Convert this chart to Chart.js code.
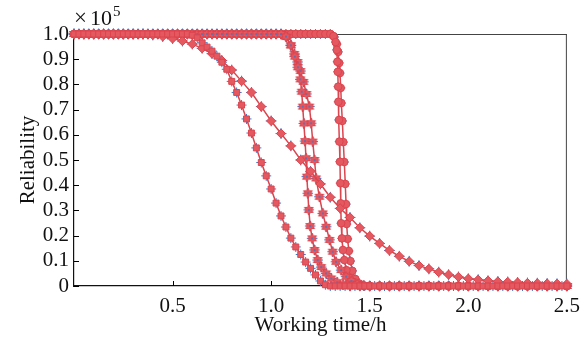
<!DOCTYPE html>
<html><head><meta charset="utf-8">
<script src="https://cdn.jsdelivr.net/npm/chart.js@4/dist/chart.umd.min.js"></script>
<style>html,body{margin:0;padding:0;background:#fff}canvas{display:block}</style>
</head><body>
<canvas id="c" width="588" height="339"></canvas>
<script>
// ---------- data ----------
const xTitle = 'Working time/h';
const yTitle = 'Reliability';
const yExponent = '5';

// square-marker curve
const sqT = [0,0.025,0.05,0.075,0.1,0.125,0.15,0.175,0.2,0.225,0.25,0.275,0.3,0.325,0.35,0.375,0.4,0.425,0.45,0.475,0.5,0.525,0.55,0.575,0.6,0.625,0.65,0.675,0.7,0.725,0.75,0.775,0.8,0.825,0.85,0.875,0.9,0.925,0.95,0.975,1,1.025,1.05,1.075,1.1,1.125,1.15,1.175,1.2,1.225,1.25,1.275,1.3,1.325,1.35,1.375,1.4,1.425,1.45,1.475,1.5,1.525,1.55,1.575,1.6,1.625,1.65,1.675,1.7,1.725,1.75,1.775,1.8,1.825,1.85,1.875,1.9,1.925,1.95,1.975,2,2.025,2.05,2.075,2.1,2.125,2.15,2.175,2.2,2.225,2.25,2.275,2.3,2.325,2.35,2.375,2.4,2.425,2.45,2.475,2.5];
const sqR = [1,1,1,1,1,1,1,1,1,1,1,1,1,1,1,1,1,1,1,1,1,1,1,1,
  0.995,0.985,0.965,0.948,0.932,0.912,0.888,0.86,0.812,0.768,0.718,0.663,0.607,0.548,0.49,0.437,0.385,0.329,0.278,0.234,0.19,0.155,0.125,0.095,0.07,0.044,0.02,0.005,
  0,0,0,0,0,0,0,0,0,0,0,0,0,0,0,0,0,0,0,0,0,0,0,0,0,0,0,0,0,0,0,0,0,0,0,0,0,0,0,0,0,0,0,0,0,0,0,0,0];

// diamond-marker curve
const dmT = [0,0.05,0.1,0.15,0.2,0.25,0.3,0.35,0.4,0.45,0.5,0.55,0.6,0.65,0.7,0.75,0.8,0.85,0.9,0.95,1,1.05,1.1,1.15,1.2,1.25,1.3,1.35,1.4,1.45,1.5,1.55,1.6,1.65,1.7,1.75,1.8,1.85,1.9,1.95,2,2.05,2.1,2.15,2.2,2.25,2.3,2.35,2.4,2.45,2.5];
const dmR = [1,1,1,1,1,1,1,1,
  0.996,0.99,0.982,0.972,0.96,0.943,0.922,0.895,0.857,0.813,0.768,0.712,0.655,0.605,0.556,0.5,0.455,0.405,0.352,0.308,0.272,0.231,0.198,0.169,0.141,0.118,0.098,0.081,0.068,0.055,0.045,0.036,0.029,0.025,0.021,0.018,0.016,0.014,0.012,0.011,0.01,0.009,0.008];

// star-marker curve (left)
const stAT = [0,0.025,0.05,0.075,0.1,0.125,0.15,0.175,0.2,0.225,0.25,0.275,0.3,0.325,0.35,0.375,0.4,0.425,0.45,0.475,0.5,0.525,0.55,0.575,0.6,0.625,0.65,0.675,0.7,0.725,0.75,0.775,0.8,0.825,0.85,0.875,0.9,0.925,0.95,0.975,1,1.025,1.05,
  1.075,1.1,1.12,1.135,1.148,1.155,1.16,1.166,1.172,1.177,1.181,1.186,1.191,1.198,1.208,1.22,1.236,1.254,1.279,1.305,1.335,1.365,1.4,
  1.45,1.5,1.55,1.6,1.65,1.7,1.75,1.8,1.85,1.9,1.95,2,2.05,2.1,2.15,2.2,2.25,2.3,2.35,2.4,2.45,2.5];
const stAR = [1,1,1,1,1,1,1,1,1,1,1,1,1,1,1,1,1,1,1,1,1,1,1,1,1,1,1,1,1,1,1,1,1,1,1,1,1,1,1,1,1,1,1,
  0.99,0.955,0.91,0.868,0.82,0.771,0.712,0.645,0.575,0.507,0.434,0.368,0.302,0.238,0.189,0.143,0.103,0.075,0.05,0.03,0.015,0.006,0,
  0,0,0,0,0,0,0,0,0,0,0,0,0,0,0,0,0,0,0,0,0,0];

// star-marker curve (right)
const stBT = [0,0.025,0.05,0.075,0.1,0.125,0.15,0.175,0.2,0.225,0.25,0.275,0.3,0.325,0.35,0.375,0.4,0.425,0.45,0.475,0.5,0.525,0.55,0.575,0.6,0.625,0.65,0.675,0.7,0.725,0.75,0.775,0.8,0.825,0.85,0.875,0.9,0.925,0.95,0.975,1,1.025,1.05,
  1.078,1.1,1.118,1.134,1.149,1.164,1.179,1.194,1.203,1.211,1.22,1.228,1.245,1.262,1.279,1.296,1.312,1.329,1.355,1.38,1.407,1.437,1.47,
  1.5,1.55,1.6,1.65,1.7,1.75,1.8,1.85,1.9,1.95,2,2.05,2.1,2.15,2.2,2.25,2.3,2.35,2.4,2.45,2.5];
const stBR = [1,1,1,1,1,1,1,1,1,1,1,1,1,1,1,1,1,1,1,1,1,1,1,1,1,1,1,1,1,1,1,1,1,1,1,1,1,1,1,1,1,1,1,
  0.988,0.955,0.921,0.889,0.853,0.81,0.762,0.712,0.646,0.573,0.5,0.427,0.354,0.288,0.235,0.183,0.136,0.096,0.063,0.037,0.02,0.008,0.002,
  0,0,0,0,0,0,0,0,0,0,0,0,0,0,0,0,0,0,0,0,0];

// circle-marker curve (left)
const ciAT = [0,0.025,0.05,0.075,0.1,0.125,0.15,0.175,0.2,0.225,0.25,0.275,0.3,0.325,0.35,0.375,0.4,0.425,0.45,0.475,0.5,0.525,0.55,0.575,0.6,0.625,0.65,0.675,0.7,0.725,0.75,0.775,0.8,0.825,0.85,0.875,0.9,0.925,0.95,0.975,1,1.025,1.05,1.075,1.1,1.125,1.15,1.175,1.2,1.225,1.25,1.275,1.3,
  1.316,1.327,1.333,1.336,1.338,1.34,1.341,1.344,1.346,1.349,1.351,1.353,1.355,1.359,1.364,1.371,1.382,1.397,1.417,1.44,1.47,
  1.5,1.55,1.6,1.65,1.7,1.75,1.8,1.85,1.9,1.95,2,2.05,2.1,2.15,2.2,2.25,2.3,2.35,2.4,2.45,2.5];
const ciAR = [1,1,1,1,1,1,1,1,1,1,1,1,1,1,1,1,1,1,1,1,1,1,1,1,1,1,1,1,1,1,1,1,1,1,1,1,1,1,1,1,1,1,1,1,1,1,1,1,1,1,1,1,1,
  0.992,0.968,0.937,0.89,0.85,0.791,0.731,0.659,0.573,0.493,0.408,0.328,0.249,0.189,0.143,0.103,0.063,0.032,0.012,0.003,0,
  0,0,0,0,0,0,0,0,0,0,0,0,0,0,0,0,0,0,0,0,0];

// circle-marker curve (right)
const ciBT = [0,0.025,0.05,0.075,0.1,0.125,0.15,0.175,0.2,0.225,0.25,0.275,0.3,0.325,0.35,0.375,0.4,0.425,0.45,0.475,0.5,0.525,0.55,0.575,0.6,0.625,0.65,0.675,0.7,0.725,0.75,0.775,0.8,0.825,0.85,0.875,0.9,0.925,0.95,0.975,1,1.025,1.05,1.075,1.1,1.125,1.15,1.175,1.2,1.225,1.25,1.275,1.3,
  1.32,1.333,1.34,1.345,1.349,1.353,1.356,1.361,1.366,1.371,1.376,1.38,1.383,1.388,1.394,1.402,1.412,1.427,1.447,1.47,
  1.5,1.55,1.6,1.65,1.7,1.75,1.8,1.85,1.9,1.95,2,2.05,2.1,2.15,2.2,2.25,2.3,2.35,2.4,2.45,2.5];
const ciBR = [1,1,1,1,1,1,1,1,1,1,1,1,1,1,1,1,1,1,1,1,1,1,1,1,1,1,1,1,1,1,1,1,1,1,1,1,1,1,1,1,1,1,1,1,1,1,1,1,1,1,1,1,1,
  0.988,0.96,0.929,0.885,0.845,0.786,0.726,0.655,0.571,0.492,0.405,0.325,0.246,0.187,0.139,0.099,0.06,0.028,0.01,0.002,
  0,0,0,0,0,0,0,0,0,0,0,0,0,0,0,0,0,0,0,0,0];

// ---------- styling ----------
const RED = 'rgb(220,68,78)';
const RED_FILL = 'rgb(228,88,96)';
const BLUE = 'rgb(62,118,198)';
const FONT = "'Liberation Serif', 'Times New Roman', serif";

function makeHexagram(r) {
  const s = Math.ceil(r * 2 + 4);
  const c = document.createElement('canvas');
  c.width = s; c.height = s;
  const g = c.getContext('2d');
  const cx = s / 2, cy = s / 2;
  g.beginPath();
  for (let k = 0; k < 12; k++) {
    const a = -Math.PI / 2 + k * Math.PI / 6;
    const rr = (k % 2 === 0) ? r : r * 0.58;
    g.lineTo(cx + rr * Math.cos(a), cy + rr * Math.sin(a));
  }
  g.closePath();
  g.fillStyle = RED_FILL; g.fill();
  g.strokeStyle = RED; g.lineWidth = 1; g.stroke();
  g.fillStyle = BLUE;
  g.beginPath(); g.arc(cx, cy, 1, 0, Math.PI * 2); g.fill();
  return c;
}
const starImg = makeHexagram(5);

function pts(t, r) {
  if (t.length !== r.length) throw new Error('length mismatch ' + t.length + ' vs ' + r.length);
  return t.map((x, i) => ({x: x, y: r[i]}));
}

const curves = [
  {t: sqT, r: sqR, style: 'rect', rad: 4.2},
  {t: dmT, r: dmR, style: 'rectRot', rad: 4.6},
  {t: stAT, r: stAR, style: starImg, rad: 4.5},
  {t: stBT, r: stBR, style: starImg, rad: 4.5},
  {t: ciAT, r: ciAR, style: 'circle', rad: 3.8},
  {t: ciBT, r: ciBR, style: 'circle', rad: 3.8}
];

const datasets = [];
curves.forEach(c => {
  const d = pts(c.t, c.r);
  datasets.push({
    data: d, order: 0, borderColor: RED, borderWidth: 1.5, tension: 0, clip: false,
    pointStyle: c.style, pointRadius: c.rad, pointBackgroundColor: RED_FILL,
    pointBorderColor: RED, pointBorderWidth: 1
  });
  datasets.push({
    data: d, order: 1, showLine: false, clip: false,
    pointStyle: 'cross', pointRadius: c.rad + 0.8, pointBorderColor: BLUE,
    pointBackgroundColor: BLUE, pointBorderWidth: 1
  });
});

const frame = {
  id: 'frame',
  beforeDatasetsDraw(chart) {
    const {ctx, chartArea: a, scales: {x, y}} = chart;
    ctx.save();
    ctx.strokeStyle = '#444'; ctx.lineWidth = 1;
    ctx.beginPath();
    ctx.moveTo(a.left, a.top + 0.5); ctx.lineTo(a.right, a.top + 0.5);
    ctx.moveTo(a.right - 0.5, a.top); ctx.lineTo(a.right - 0.5, a.bottom);
    ctx.stroke();
    ctx.strokeStyle = '#000';
    ctx.beginPath();
    y.ticks.forEach(t => {
      const py = Math.round(y.getPixelForValue(t.value)) + 0.5;
      ctx.moveTo(a.left, py); ctx.lineTo(a.left + 5, py);
    });
    x.ticks.forEach(t => {
      if (t.value === 0) return;
      const px = Math.round(x.getPixelForValue(t.value)) + 0.5;
      ctx.moveTo(px, a.bottom); ctx.lineTo(px, a.bottom - 5);
    });
    ctx.stroke();
    ctx.restore();
  },
  afterDraw(chart) {
    const {ctx, chartArea: a} = chart;
    ctx.save();
    ctx.fillStyle = '#111';
    ctx.textBaseline = 'alphabetic';
    ctx.font = '23px ' + FONT;
    ctx.fillText('\u00d7', a.left, 25);
    ctx.font = '22px ' + FONT;
    ctx.fillText('10', a.left + 16, 25);
    ctx.font = '15px ' + FONT;
    ctx.fillText(yExponent, a.left + 39, 16);
    ctx.restore();
  }
};

new Chart(document.getElementById('c'), {
  type: 'line',
  data: {datasets: datasets},
  options: {
    responsive: false,
    animation: false,
    events: [],
    layout: {padding: {top: 34, right: 21, left: 0, bottom: 0}},
    plugins: {legend: {display: false}, tooltip: {enabled: false}},
    scales: {
      x: {
        type: 'linear', min: 0, max: 2.5,
        ticks: {stepSize: 0.5, color: '#111', font: {family: FONT, size: 21}, padding: 8,
          maxRotation: 0, autoSkip: false, callback: v => v === 0 ? '' : v.toFixed(1)},
        grid: {display: true, drawOnChartArea: false, drawTicks: false},
        border: {display: true, color: '#111', width: 1.2},
        title: {display: true, text: xTitle, color: '#111', font: {family: FONT, size: 21, lineHeight: 1.2}, padding: {top: 1, bottom: 1}},
        afterFit: s => { s.height = 53; }
      },
      y: {
        type: 'linear', min: 0, max: 1,
        ticks: {stepSize: 0.1, color: '#111', font: {family: FONT, size: 21}, padding: 5,
          autoSkip: false, callback: v => v === 0 ? '0' : v.toFixed(1)},
        grid: {display: true, drawOnChartArea: false, drawTicks: false},
        border: {display: true, color: '#111', width: 1.2},
        title: {display: true, text: yTitle, color: '#111', font: {family: FONT, size: 21, lineHeight: 1.2}, padding: {top: 16, bottom: 0}},
        afterFit: s => { s.width = 74; }
      }
    }
  },
  plugins: [frame]
});
</script>
</body></html>
